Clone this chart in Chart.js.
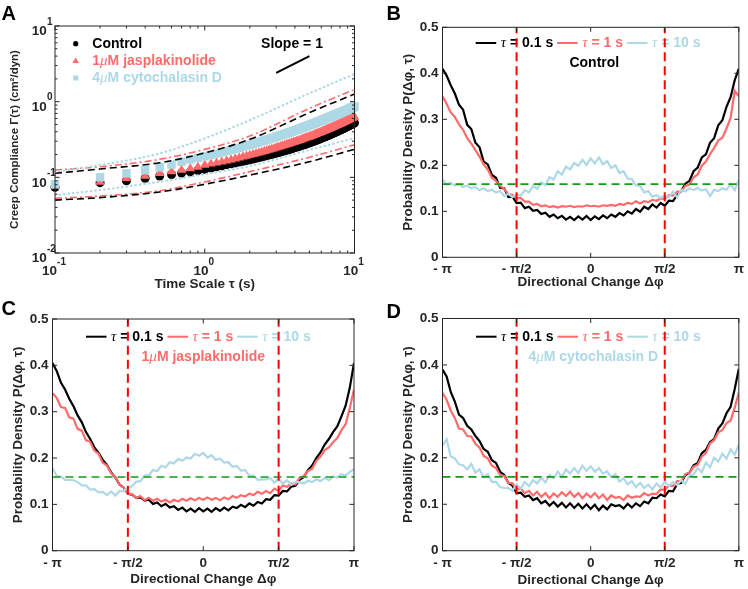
<!DOCTYPE html>
<html>
<head>
<meta charset="utf-8">
<title>Creep compliance and directional change</title>
<script src="https://cdn.jsdelivr.net/npm/chart.js@4.4.1/dist/chart.umd.min.js"></script>
<style>
  html, body { margin: 0; padding: 0; background: #fff; }
  #fig { position: relative; width: 748px; height: 589px; overflow: hidden; background: #fff; }
  .cell { position: absolute; }
  .cell canvas { display: block; }
</style>
</head>
<body>
<div id="fig">
  <div class="cell" style="left:0px;top:0px"><canvas id="panelA" width="374" height="296"></canvas></div>
  <div class="cell" style="left:374px;top:0px"><canvas id="panelB" width="374" height="296"></canvas></div>
  <div class="cell" style="left:0px;top:296px"><canvas id="panelC" width="374" height="293"></canvas></div>
  <div class="cell" style="left:374px;top:296px"><canvas id="panelD" width="374" height="293"></canvas></div>
</div>
<script>
// ---- panel A: creep compliance vs time scale ----
const tau = [0.1,0.2,0.3,0.4,0.5,0.6,0.7,0.8,0.9,1.0,
  1.1,1.2,1.3,1.4,1.5,1.6,1.7,1.8,1.9,2.0,
  2.1,2.2,2.3,2.4,2.5,2.6,2.7,2.8,2.9,3.0,
  3.1,3.2,3.3,3.4,3.5,3.6,3.7,3.8,3.9,4.0,
  4.1,4.2,4.3,4.4,4.5,4.6,4.7,4.8,4.9,5.0,
  5.1,5.2,5.3,5.4,5.5,5.6,5.7,5.8,5.9,6.0,
  6.1,6.2,6.3,6.4,6.5,6.6,6.7,6.8,6.9,7.0,
  7.1,7.2,7.3,7.4,7.5,7.6,7.7,7.8,7.9,8.0,
  8.1,8.2,8.3,8.4,8.5,8.6,8.7,8.8,8.9,9.0,
  9.1,9.2,9.3,9.4,9.5,9.6,9.7,9.8,9.9,10.0];
const creepControl = [.074,.085,.090,.097,.104,.109,.114,.118,.123,.128,
  .133,.138,.142,.147,.151,.155,.159,.163,.167,.171,
  .175,.179,.183,.186,.190,.194,.198,.201,.205,.209,
  .212,.216,.220,.224,.227,.231,.235,.239,.243,.247,
  .251,.254,.258,.262,.266,.270,.274,.278,.282,.286,
  .290,.294,.298,.302,.307,.311,.315,.319,.324,.328,
  .332,.337,.341,.346,.350,.355,.359,.364,.368,.373,
  .378,.382,.387,.392,.397,.401,.406,.411,.416,.421,
  .426,.431,.436,.441,.446,.451,.456,.461,.466,.472,
  .477,.482,.487,.493,.498,.503,.509,.514,.520,.525];
const creepJasp = [.077,.087,.097,.104,.113,.119,.125,.131,.137,.145,
  .151,.156,.161,.166,.171,.176,.182,.187,.192,.197,
  .202,.207,.212,.216,.221,.226,.231,.236,.241,.246,
  .251,.256,.261,.266,.271,.276,.281,.286,.290,.295,
  .300,.305,.310,.315,.320,.325,.330,.335,.340,.345,
  .350,.355,.361,.366,.371,.376,.382,.387,.392,.398,
  .403,.409,.414,.420,.425,.431,.436,.442,.447,.453,
  .459,.464,.470,.476,.481,.487,.493,.499,.504,.510,
  .516,.522,.528,.534,.540,.546,.552,.558,.564,.570,
  .576,.582,.588,.594,.600,.606,.612,.618,.624,.630];
const creepCyto = [.081,.100,.113,.125,.136,.148,.161,.172,.181,.190,
  .198,.206,.214,.222,.230,.238,.246,.254,.262,.270,
  .277,.285,.292,.299,.307,.314,.321,.329,.336,.343,
  .350,.358,.365,.372,.380,.387,.394,.402,.409,.416,
  .424,.431,.438,.446,.453,.460,.468,.475,.482,.490,
  .497,.505,.512,.519,.527,.534,.542,.549,.556,.564,
  .571,.579,.586,.593,.601,.608,.616,.623,.630,.638,
  .645,.653,.660,.667,.675,.682,.690,.697,.704,.712,
  .719,.727,.734,.741,.749,.756,.764,.771,.778,.786,
  .793,.801,.808,.815,.823,.830,.838,.845,.852,.860];
const boundTau = [0.1, 0.2, 0.5, 1, 2, 5, 10];
const controlUpper = [0.113, 0.129, 0.156, 0.210, 0.318, 0.716, 1.26];
const controlLower = [0.050, 0.054, 0.064, 0.081, 0.107, 0.161, 0.235];
const jaspUpper = [0.125, 0.138, 0.173, 0.234, 0.352, 0.817, 1.45];
const jaspLower = [0.0527, 0.0566, 0.0665, 0.087, 0.119, 0.184, 0.270];
const cytoUpper = [0.118, 0.145, 0.207, 0.327, 0.570, 1.29, 2.32];
const cytoLower = [0.058, 0.068, 0.0875, 0.110, 0.141, 0.230, 0.330];
const slopeTau = [3, 5];
const slopeVal = [2.4, 4.0];
const decadesX = [0.1, 1, 10];
const decadeExpX = ['-1', '0', '1'];
const decadesY = [0.01, 0.1, 1, 10];
const decadeExpY = ['-2', '-1', '0', '1'];
const conditionNames = ['Control', '1μM jasplakinolide', '4μM cytochalasin D'];

// ---- panels B-D: directional change distributions (degrees, -180..180) ----
const dphi = [-180,-175,-170,-165,-160,-155,-150,-145,-140,-135,-130,-125,-120,-115,-110,-105,-100,-95,-90,-85,
  -80,-75,-70,-65,-60,-55,-50,-45,-40,-35,-30,-25,-20,-15,-10,-5,0,5,10,15,20,25,30,35,40,45,50,55,60,65,
  70,75,80,85,90,95,100,105,110,115,120,125,130,135,140,145,150,155,160,165,170,175,180];
const phiTicks = [-180, -90, 0, 90, 180];
const phiTickLabels = ['- π', '- π/2', '0', 'π/2', 'π'];
const probTicks = [0, 0.1, 0.2, 0.3, 0.4, 0.5];
const probTickLabels = ['0', '0.1', '0.2', '0.3', '0.4', '0.5'];
const tauLabels = ['τ = 0.1 s', 'τ = 1 s', 'τ = 10 s'];
const uniformLevel = 0.159;
const halfPi = [-90, 90];

const controlP01 = [.410,.395,.374,.356,.332,.321,.288,.279,.249,.239,.208,.202,.179,.173,.151,.150,.131,.132,.118,.119,
  .107,.110,.101,.103,.094,.097,.088,.093,.085,.090,.082,.088,.081,.089,.082,.090,.081,.089,.083,.091,
  .085,.093,.088,.096,.091,.100,.095,.105,.099,.110,.105,.115,.108,.118,.112,.123,.122,.135,.144,.160,
  .166,.187,.195,.217,.224,.249,.259,.287,.298,.327,.348,.385,.410];
const controlP1 = [.350,.334,.315,.305,.289,.277,.259,.247,.233,.219,.202,.191,.173,.166,.155,.149,.137,.136,.128,.129,
  .121,.121,.114,.116,.111,.113,.109,.111,.108,.111,.110,.112,.109,.111,.110,.113,.111,.112,.110,.113,
  .112,.114,.112,.116,.114,.118,.116,.122,.117,.122,.120,.125,.123,.128,.127,.135,.134,.143,.143,.155,
  .158,.174,.180,.199,.208,.224,.238,.254,.260,.280,.303,.362,.350];
const controlP10 = [.170,.158,.162,.156,.159,.153,.156,.150,.153,.146,.150,.144,.147,.141,.144,.133,.138,.131,.137,.134,
  .146,.141,.155,.149,.163,.157,.174,.169,.187,.180,.197,.191,.205,.199,.212,.201,.215,.204,.217,.202,
  .209,.194,.200,.183,.187,.171,.170,.156,.155,.141,.144,.132,.135,.129,.134,.131,.143,.130,.147,.143,
  .150,.146,.151,.145,.148,.133,.147,.144,.150,.147,.159,.146,.168];

const jaspP01 = [.405,.388,.363,.348,.328,.312,.292,.277,.256,.241,.223,.211,.196,.185,.169,.158,.143,.136,.123,.121,
  .114,.115,.108,.110,.101,.104,.096,.101,.093,.096,.088,.093,.085,.091,.084,.092,.085,.091,.084,.092,
  .086,.093,.087,.095,.092,.099,.094,.102,.097,.105,.102,.111,.110,.120,.119,.129,.128,.138,.140,.153,
  .159,.174,.184,.200,.212,.229,.241,.256,.268,.290,.313,.352,.405];
const jaspP1 = [.340,.330,.310,.308,.288,.285,.263,.259,.238,.235,.216,.209,.190,.184,.167,.159,.143,.136,.123,.122,
  .114,.118,.109,.114,.108,.112,.106,.110,.104,.110,.106,.112,.108,.113,.109,.114,.110,.115,.110,.114,
  .109,.115,.111,.118,.114,.120,.117,.123,.120,.127,.123,.129,.124,.134,.129,.141,.138,.145,.143,.157,
  .161,.172,.177,.194,.203,.217,.223,.234,.243,.260,.273,.308,.348];
const jaspP10 = [.178,.161,.160,.153,.153,.152,.148,.141,.141,.132,.133,.126,.127,.120,.128,.119,.129,.128,.136,.139,
  .149,.150,.162,.163,.174,.172,.183,.180,.191,.188,.198,.194,.201,.199,.209,.205,.211,.201,.206,.196,
  .199,.190,.191,.181,.183,.173,.174,.162,.162,.153,.154,.154,.157,.147,.155,.145,.152,.142,.148,.148,
  .145,.151,.148,.154,.150,.157,.152,.160,.158,.165,.162,.170,.176];

const cytoP01 = [.390,.375,.342,.321,.293,.286,.269,.261,.247,.236,.219,.213,.195,.189,.170,.163,.146,.140,.124,.125,
  .116,.119,.109,.113,.102,.107,.097,.105,.095,.103,.093,.102,.092,.101,.091,.100,.090,.099,.087,.097,
  .089,.100,.096,.098,.091,.101,.093,.102,.096,.106,.102,.114,.113,.121,.117,.129,.128,.143,.146,.163,
  .168,.184,.189,.210,.217,.234,.240,.263,.274,.296,.310,.348,.392];
const cytoP1 = [.340,.325,.302,.286,.263,.261,.247,.246,.230,.222,.204,.199,.183,.178,.163,.161,.146,.145,.132,.134,
  .124,.129,.119,.127,.116,.124,.113,.123,.116,.126,.118,.127,.116,.124,.113,.123,.115,.124,.113,.121,
  .109,.119,.114,.116,.109,.119,.114,.117,.116,.124,.119,.123,.122,.132,.131,.140,.139,.150,.150,.165,
  .168,.181,.185,.203,.210,.231,.238,.255,.260,.275,.280,.308,.340];
const cytoP10 = [.226,.240,.203,.199,.186,.184,.175,.187,.168,.175,.158,.165,.148,.148,.137,.135,.135,.129,.142,.134,
  .148,.139,.152,.145,.157,.147,.163,.156,.170,.159,.175,.166,.178,.167,.183,.172,.182,.170,.178,.166,
  .171,.158,.165,.149,.156,.143,.150,.137,.146,.135,.142,.132,.145,.136,.149,.139,.148,.141,.152,.144,
  .162,.164,.178,.169,.190,.180,.200,.192,.209,.198,.218,.207,.228];

// ---- styling ----
const FONT = "'Liberation Sans', Arial, Helvetica, sans-serif";
const GREEK = "'Liberation Serif', 'DejaVu Serif', serif";
const INK = '#262626';
const BLACK = '#000000';
const RED = '#FF6B6B';
const BLUE = '#ADD8E6';
const VLINE = '#FF0000';
const GREEN = '#169C16';
const bold = (s) => `bold ${s}px ${FONT}`;
const ital = (s) => `italic ${s}px ${GREEK}`;

Chart.defaults.font.family = FONT;
Chart.defaults.color = INK;

// split text so that Greek letters use an italic serif face, like TeX in the original
function toParts(str, size) {
  const parts = [];
  for (const ch of str) {
    const greek = /[τμ]/.test(ch);
    const f = greek ? ital(size + 1) : bold(size);
    if (parts.length && parts[parts.length - 1].f === f) parts[parts.length - 1].t += ch;
    else parts.push({ t: ch, f });
  }
  return parts;
}
function richWidth(ctx, parts) {
  let w = 0;
  parts.forEach(p => { ctx.font = p.f; w += ctx.measureText(p.t).width; });
  return w;
}
function drawRich(ctx, str, size, x, y, color, align) {
  const parts = toParts(str, size);
  ctx.save();
  ctx.fillStyle = color;
  ctx.textBaseline = 'middle';
  ctx.textAlign = 'left';
  let cx = align === 'center' ? x - richWidth(ctx, parts) / 2 : x;
  parts.forEach(p => { ctx.font = p.f; ctx.fillText(p.t, cx, y); cx += ctx.measureText(p.t).width; });
  ctx.restore();
  return cx;
}

// MATLAB-like box with inward ticks on all four sides, plus panel letter
function makeFrame(cfg) {
  return {
    id: 'frame',
    beforeDatasetsDraw(chart) {
      if (cfg.annotate) cfg.annotate(chart.ctx, chart);
    },
    afterDatasetsDraw(chart) {
      const { ctx, chartArea: a } = chart;
      const xs = chart.scales.x, ys = chart.scales.y;
      ctx.save();
      ctx.strokeStyle = INK;
      ctx.lineWidth = 1;
      ctx.setLineDash([]);
      ctx.beginPath();
      const xMark = (vals, len) => vals.forEach(v => {
        const p = xs.getPixelForValue(v);
        ctx.moveTo(p, a.bottom); ctx.lineTo(p, a.bottom - len);
        ctx.moveTo(p, a.top); ctx.lineTo(p, a.top + len);
      });
      const yMark = (vals, len) => vals.forEach(v => {
        const p = ys.getPixelForValue(v);
        ctx.moveTo(a.left, p); ctx.lineTo(a.left + len, p);
        ctx.moveTo(a.right, p); ctx.lineTo(a.right - len, p);
      });
      xMark(cfg.xMajor, 4.5);
      yMark(cfg.yMajor, 4.5);
      if (cfg.xMinor) xMark(cfg.xMinor, 2.5);
      if (cfg.yMinor) yMark(cfg.yMinor, 2.5);
      ctx.stroke();
      ctx.strokeRect(a.left, a.top, a.right - a.left, a.bottom - a.top);
      ctx.restore();
    },
    afterDraw(chart) {
      const ctx = chart.ctx;
      if (cfg.labels) cfg.labels(ctx, chart);
      ctx.save();
      ctx.font = bold(20);
      ctx.fillStyle = BLACK;
      ctx.textBaseline = 'alphabetic';
      ctx.textAlign = 'left';
      ctx.fillText(cfg.letter, cfg.lx, cfg.ly);
      ctx.restore();
    }
  };
}

function hiddenGrid() {
  return { display: false, drawTicks: false };
}

// ---- panel A ----
(function () {
  const minors = (decades) => {
    const out = [];
    decades.slice(0, -1).forEach(d => { for (let m = 2; m <= 9; m++) out.push(m * d); });
    return out;
  };
  const pts = (xs, ys) => xs.map((x, i) => ({ x, y: ys[i] }));
  const bound = (vals, color, dash, width, cap) => ({
    type: 'line', data: pts(boundTau, vals), borderColor: color, borderDash: dash,
    borderWidth: width, borderCapStyle: cap || 'butt', pointRadius: 0,
    cubicInterpolationMode: 'monotone', order: 0
  });

  const frame = makeFrame({
    xMajor: decadesX, xMinor: minors(decadesX),
    yMajor: decadesY, yMinor: minors(decadesY),
    letter: 'A', lx: 1.5, ly: 19.5,
    annotate(ctx) {
      const rows = [43.7, 60.7, 78];
      const colors = [BLACK, RED, BLUE];
      ctx.save();
      // legend markers
      ctx.fillStyle = BLACK;
      ctx.beginPath(); ctx.arc(75.7, rows[0], 2.6, 0, Math.PI * 2); ctx.fill();
      ctx.fillStyle = RED;
      ctx.beginPath(); ctx.moveTo(75.7, rows[1] - 3.3); ctx.lineTo(79, rows[1] + 2.4); ctx.lineTo(72.4, rows[1] + 2.4); ctx.closePath(); ctx.fill();
      ctx.fillStyle = BLUE;
      ctx.fillRect(73.2, rows[2] - 2.5, 5, 5);
      ctx.restore();
      conditionNames.forEach((n, i) => drawRich(ctx, n, 14, 92.3, rows[i], colors[i], 'left'));
      drawRich(ctx, 'Slope = 1', 14, 292, 43.7, BLACK, 'center');
    },
    labels(ctx, chart) {
      const xs = chart.scales.x, ys = chart.scales.y, a = chart.chartArea;
      ctx.save();
      ctx.fillStyle = INK;
      ctx.textBaseline = 'middle';
      ctx.textAlign = 'left';
      decadesY.forEach((d, i) => {
        const p = ys.getPixelForValue(d);
        ctx.font = bold(13.5);
        const w = ctx.measureText('10').width;
        ctx.fillText('10', 46.8 - w, p + 5.5);
        ctx.font = bold(10);
        ctx.fillText(decadeExpY[i], 47, p - 4);
      });
      decadesX.forEach((d, i) => {
        const p = xs.getPixelForValue(d);
        ctx.font = bold(13.5);
        const w1 = ctx.measureText('10').width;
        ctx.font = bold(10);
        const w2 = ctx.measureText(decadeExpX[i]).width;
        const x0 = p - 1 - (w1 + w2) / 2;
        ctx.font = bold(13.5);
        ctx.fillText('10', x0, a.bottom + 18);
        ctx.font = bold(10);
        ctx.fillText(decadeExpX[i], x0 + w1, a.bottom + 9);
      });
      ctx.restore();
    }
  });

  new Chart(document.getElementById('panelA'), {
    type: 'scatter',
    data: {
      datasets: [
        bound(cytoUpper, BLUE, [0.5, 4], 2.2, 'round'),
        bound(cytoLower, BLUE, [0.5, 4], 2.2, 'round'),
        bound(controlUpper, BLACK, [7, 4], 1.6),
        bound(controlLower, BLACK, [7, 4], 1.6),
        bound(jaspUpper, RED, [7, 3, 2, 3], 1.6),
        bound(jaspLower, RED, [7, 3, 2, 3], 1.6),
        { type: 'line', data: pts(slopeTau, slopeVal), borderColor: BLACK, borderWidth: 2, pointRadius: 0, order: 0 },
        { label: conditionNames[2], data: pts(tau, creepCyto), pointStyle: 'rect', pointRadius: 6,
          backgroundColor: BLUE, borderWidth: 0, clip: false, order: 1 },
        { label: conditionNames[1], data: pts(tau, creepJasp), pointStyle: 'triangle', pointRadius: 5.5,
          backgroundColor: RED, borderWidth: 0, clip: false, order: 2 },
        { label: conditionNames[0], data: pts(tau, creepControl), pointStyle: 'circle', pointRadius: 4.5,
          backgroundColor: BLACK, borderWidth: 0, clip: false, order: 3 }
      ]
    },
    options: {
      responsive: false,
      animation: false,
      events: [],
      layout: { padding: { left: 0, right: 19.5, top: 26, bottom: 0 } },
      plugins: { legend: { display: false }, tooltip: { enabled: false } },
      scales: {
        x: {
          type: 'logarithmic', min: 0.1, max: 10,
          grid: hiddenGrid(), border: { display: false },
          ticks: { display: false },
          title: { display: true, text: 'Time Scale τ (s)', color: INK,
                   font: { size: 13.5, weight: 'bold' }, padding: { top: 0, bottom: 3.2 } },
          afterFit: (s) => { s.height = 43; }
        },
        y: {
          type: 'logarithmic', min: 0.01, max: 10,
          grid: hiddenGrid(), border: { display: false },
          ticks: { display: false },
          title: { display: true, text: 'Creep Compliance Γ(τ) (cm²/dyn)', color: INK,
                   font: { size: 11.5, weight: 'bold' }, padding: { top: 8, bottom: 0 } },
          afterFit: (s) => { s.width = 55; }
        }
      }
    },
    plugins: [frame]
  });
})();

// ---- panels B, C, D ----
function phiPanel(id, g, series, condIndex, condColor) {
  const pts = (vals) => dphi.map((d, i) => ({ x: d, y: vals[i] }));
  const curve = (vals, color, order) => ({
    data: pts(vals), borderColor: color, borderWidth: 2.2, pointRadius: 0, tension: 0, order
  });
  const legendColors = [BLACK, RED, BLUE];

  const frame = makeFrame({
    xMajor: phiTicks, yMajor: probTicks,
    letter: g.letter, lx: g.lx, ly: g.ly,
    annotate(ctx) {
      let x = g.legX;
      tauLabels.forEach((lab, i) => {
        ctx.save();
        ctx.strokeStyle = legendColors[i];
        ctx.lineWidth = 2;
        ctx.beginPath(); ctx.moveTo(x, g.legY); ctx.lineTo(x + 20.5, g.legY); ctx.stroke();
        ctx.restore();
        x = drawRich(ctx, lab, 14, x + 25, g.legY, legendColors[i], 'left') + 4;
      });
      drawRich(ctx, conditionNames[condIndex], 14, g.condX, g.condY, condColor, 'center');
    }
  });

  new Chart(document.getElementById(id), {
    type: 'line',
    data: {
      datasets: [
        { data: [{ x: halfPi[0], y: 0 }, { x: halfPi[0], y: 0.5 }], borderColor: VLINE, borderWidth: 2,
          borderDash: [9, 5], pointRadius: 0, order: 0 },
        { data: [{ x: halfPi[1], y: 0 }, { x: halfPi[1], y: 0.5 }], borderColor: VLINE, borderWidth: 2,
          borderDash: [9, 5], pointRadius: 0, order: 0 },
        { data: [{ x: -180, y: uniformLevel }, { x: 180, y: uniformLevel }], borderColor: GREEN, borderWidth: 1.6,
          borderDash: [8, 5], pointRadius: 0, order: 0 },
        curve(series[2], BLUE, 1),
        curve(series[1], RED, 2),
        curve(series[0], BLACK, 3)
      ]
    },
    options: {
      responsive: false,
      animation: false,
      events: [],
      layout: { padding: { left: 0, right: g.pr, top: g.pt, bottom: 0 } },
      plugins: { legend: { display: false }, tooltip: { enabled: false } },
      scales: {
        x: {
          type: 'linear', min: -180, max: 180,
          grid: hiddenGrid(), border: { display: false },
          afterBuildTicks: (s) => { s.ticks = phiTicks.map(v => ({ value: v })); },
          ticks: { autoSkip: false, maxRotation: 0, padding: 4, color: INK,
                   font: { size: 13.5, weight: 'bold' },
                   callback: (v, i) => phiTickLabels[i] },
          title: { display: true, text: 'Directional Change Δφ', color: INK,
                   font: { size: 13.5, weight: 'bold' }, padding: { top: 0, bottom: g.xtp } },
          afterFit: (s) => { s.height = g.xh; }
        },
        y: {
          type: 'linear', min: 0, max: 0.5,
          grid: hiddenGrid(), border: { display: false },
          afterBuildTicks: (s) => { s.ticks = probTicks.map(v => ({ value: v })); },
          ticks: { autoSkip: false, padding: 4, color: INK,
                   font: { size: 13.5, weight: 'bold' },
                   callback: (v, i) => probTickLabels[i] },
          title: { display: true, text: 'Probability Density P(Δφ, τ)', color: INK,
                   font: { size: 13.5, weight: 'bold' }, padding: { top: g.ytp, bottom: 0 } },
          afterFit: (s) => { s.width = g.yw; }
        }
      }
    },
    plugins: [frame]
  });
}

phiPanel('panelB',
  { yw: 68.5, xh: 38.7, pt: 27.3, pr: 5.3, ytp: 26.5, xtp: 5.5, letter: 'B', lx: 12.5, ly: 19.5,
    legX: 101.7, legY: 43, condX: 220.3, condY: 63 },
  [controlP01, controlP1, controlP10], 0, BLACK);
phiPanel('panelC',
  { yw: 52.5, xh: 38.3, pt: 23, pr: 20, ytp: 10.5, xtp: 1.2, letter: 'C', lx: 1.5, ly: 18.5,
    legX: 86, legY: 40.7, condX: 203.3, condY: 60.7 },
  [jaspP01, jaspP1, jaspP10], 1, RED);
phiPanel('panelD',
  { yw: 68.5, xh: 38.3, pt: 22.5, pr: 5.3, ytp: 26.5, xtp: 0.5, letter: 'D', lx: 12.5, ly: 22,
    legX: 102, legY: 40.7, condX: 219.3, condY: 60.7 },
  [cytoP01, cytoP1, cytoP10], 2, BLUE);
</script>
</body>
</html>
